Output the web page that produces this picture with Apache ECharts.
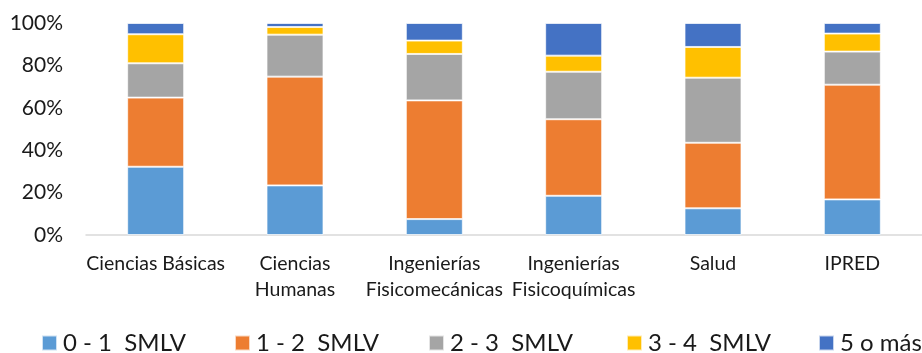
<!DOCTYPE html>
<html><head><meta charset="utf-8">
<script src="https://cdn.jsdelivr.net/npm/echarts@6/dist/echarts.min.js"></script>
<style>html,body{margin:0;padding:0;background:#fff}#c{width:922px;height:353px}</style>
</head><body><div id="c"></div>
<script>
const categories = ['Ciencias Básicas', 'Ciencias\nHumanas', 'Ingenierías\nFisicomecánicas', 'Ingenierías\nFisicoquímicas', 'Salud', 'IPRED'];
const seriesNames = ['0 - 1  SMLV', '1 - 2  SMLV', '2 - 3  SMLV', '3 - 4  SMLV', '5 o más'];
const s01 = [32.2, 23.4, 7.5, 18.5, 12.6, 16.8];
const s12 = [32.6, 51.3, 56.0, 36.1, 30.9, 54.1];
const s23 = [16.2, 19.8, 21.9, 22.4, 30.7, 15.6];
const s34 = [13.7, 3.6, 6.3, 7.6, 14.5, 8.5];
const s5 = [5.3, 1.9, 8.3, 15.4, 11.3, 5.0];
const yTicks = [0, 20, 40, 60, 80, 100];

const values = [s01, s12, s23, s34, s5];
const colors = ['#5B9BD5', '#ED7D31', '#A5A5A5', '#FFC000', '#4472C4'];
const FONT = "Lato, sans-serif";
const legendLeft = [41, 234, 428, 626, 818];

const chart = echarts.init(document.getElementById('c'));
chart.setOption({
  animation: false,
  color: colors,
  textStyle: { fontFamily: FONT },
  grid: { left: 86, right: -14, top: 23, bottom: 118, containLabel: false },
  legend: seriesNames.map((n, i) => ({
    data: [n], left: legendLeft[i], top: 331, padding: 0,
    itemWidth: 15, itemHeight: 15, itemGap: 0,
    icon: 'rect',
    textStyle: { fontFamily: FONT, fontSize: 24, color: '#1a1a1a', padding: [0, 0, 0, 1] }
  })),
  xAxis: {
    type: 'category', data: categories,
    axisTick: { show: false },
    axisLine: { lineStyle: { color: '#d9d9d9', width: 1.5 } },
    axisLabel: { fontFamily: FONT, fontSize: 19.5, color: '#1a1a1a', margin: 16, lineHeight: 26, interval: 0 }
  },
  yAxis: {
    type: 'value', min: yTicks[0], max: yTicks[yTicks.length - 1], interval: 20,
    splitLine: { show: false },
    axisLine: { show: false }, axisTick: { show: false },
    axisLabel: { fontFamily: FONT, fontSize: 21, color: '#1a1a1a', margin: 23, formatter: '{value}%' }
  },
  series: seriesNames.map((n, i) => ({
    name: n, type: 'bar', stack: 'total', data: values[i], barWidth: 57,
    itemStyle: { color: colors[i], borderColor: 'rgba(255,255,255,0.7)', borderWidth: 1 }
  }))
});
</script></body></html>
